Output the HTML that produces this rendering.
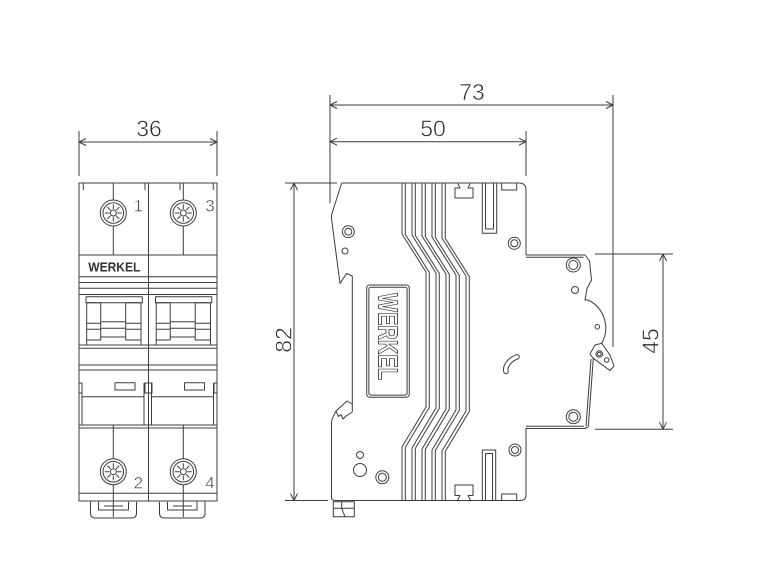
<!DOCTYPE html>
<html><head><meta charset="utf-8">
<style>
html,body{margin:0;padding:0;background:#fff;}
svg{display:block;}
.l{stroke:#3c3c3c;stroke-width:1;fill:none;stroke-linejoin:round;}
.dim{font-family:"Liberation Sans",sans-serif;font-size:23px;fill:#2a2a2a;stroke:#fff;stroke-width:0.6px;}
.num{font-family:"Liberation Sans",sans-serif;font-size:17px;fill:#2a2a2a;stroke:#fff;stroke-width:0.5px;}
</style></head>
<body>
<svg width="783" height="588" viewBox="0 0 783 588" xmlns="http://www.w3.org/2000/svg">
<defs>
<g id="scr">
  <circle r="13" fill="#fff" stroke="#3c3c3c"/>
  <circle r="10.3" fill="none" stroke="#3c3c3c"/>
  <circle r="3" fill="none" stroke="#3c3c3c"/>
  <path d="M0,-4V-8.5M0,4V8.5M-4,0H-8.5M4,0H8.5M2.8,2.8L6,6M-2.8,-2.8L-6,-6M2.8,-2.8L6,-6M-2.8,2.8L-6,6" stroke="#3c3c3c" fill="none"/>
</g>
<g id="sw">
  <rect x="86" y="296.7" width="56.3" height="6" />
  <rect x="86.7" y="302.7" width="14" height="37.3"/>
  <rect x="125.7" y="302.7" width="15.3" height="37.3"/>
  <path d="M100.7,321.7H125.7M100.7,328.3H125.7M100.7,337H125.7M86.7,323.3H100.7M86.7,329.3H100.7M125.7,323.3H141M125.7,329.3H141M86.7,340V345M141,340V345"/>
  <path d="M82,383V425M144,383V425M82,396.7H144"/>
  <rect x="115" y="382.7" width="20" height="7.3"/>
</g>
</defs>

<!-- ===== FRONT VIEW ===== -->
<g class="l">
  <rect x="79" y="183" width="138" height="318"/>
  <line x1="148.5" y1="183" x2="148.5" y2="501"/>
  <path d="M83.3,183V190M145,183V190M180,183V190M213.3,183V190"/>
  <path d="M113.3,183V255M183.3,183V255"/>
  <path d="M79,255H217M79,276.7H217M79,282.5H217M79,288.3H217M79,294.5H217"/>
  <path d="M79,345H217M79,348.3H217M79,365H217M79,370H217"/>
  <path d="M79,425H217M79,428H217M79,493.3H217"/>
  <use href="#sw"/>
  <use href="#sw" transform="translate(69.5,0)"/>
  <rect x="79" y="383" width="3" height="10"/>
  <rect x="145" y="383" width="7" height="10"/>
  <rect x="214" y="383" width="3" height="10"/>
  <path d="M113.3,425V517M183.3,425V517"/>
  <path d="M90.5,501.7V513Q90.5,518 95.5,518H131.5Q136.5,518 136.5,513V501.7"/>
  <path d="M98.5,501.7V510H128.5V501.7M104,506H123"/>
  <path d="M159.5,501.7V513Q159.5,518 164.5,518H200Q205,518 205,513V501.7"/>
  <path d="M167.5,501.7V510H197V501.7M173,506H192"/>
</g>
<use href="#scr" x="113.3" y="213"/>
<use href="#scr" x="183.3" y="213"/>
<use href="#scr" x="113.3" y="471.7"/>
<use href="#scr" x="183.3" y="471.7"/>
<text x="88.3" y="271.7" font-family="Liberation Sans, sans-serif" font-weight="bold" font-size="12.5" textLength="52" lengthAdjust="spacingAndGlyphs" fill="#333">WERKEL</text>
<text class="num" x="138.3" y="211.7" text-anchor="middle">1</text>
<text class="num" x="210" y="211.7" text-anchor="middle">3</text>
<text class="num" x="138.3" y="488.3" text-anchor="middle">2</text>
<text class="num" x="210" y="488.3" text-anchor="middle">4</text>

<!-- 36 dimension -->
<g class="l">
  <path d="M79,142H217M86,138.5L79,142L86,145.5M210,138.5L217,142L210,145.5M79,131V176M217,131V176"/>
</g>
<text class="dim" x="149" y="136.7" text-anchor="middle">36</text>

<!-- ===== SIDE VIEW ===== -->
<g class="l">
  <!-- outline -->
  <path d="M341.7,183L331.5,215V218.5L340,283.5L346.5,273.5L352.3,276V412"/>
  <path d="M352.3,404L347,401L336,411L333.5,416L331.5,421V497Q331.5,500.5 335,500.5H520Q526,500.5 526,494.5V428"/>
  <path d="M336,411L338.5,416.5L341,414.5L343,419L346,416L352.3,412"/>
  <path d="M341.7,183H519Q526,183 526,190V255"/>
  <!-- DIN side -->
  <path d="M526,255H585L589.5,261L591.5,280L587,288.5L585,300H588A31,31 0 0 1 601.7,343.3"/>
  <path d="M526,257.3H583.5"/>
  <path d="M590,354L595,345L601.7,343.3L610,355L614,366L610,370.5L593.3,358.3Z"/>
  <path d="M593.3,358.3L588.3,426.7L585,428.5H526M591,359L586,426.3M526,426.3H584"/>
  <!-- bottom clip -->
  <rect x="333.3" y="501.7" width="21" height="15"/>
  <path d="M333.3,508.3H354.3M341.7,501.7V508.3L345,516.7"/>
  <!-- wavy lines (5 pairs) -->
  <path d="M402,183V234L426,272V407L402,447V500.5"/>
  <path d="M405.3,183V234.4L429.3,272.4V407.4L405.3,447.4V500.5"/>
  <path d="M412,183V235L436,273V408L412,448V500.5"/>
  <path d="M415.3,183V235.4L439.3,273.4V408.4L415.3,448.4V500.5"/>
  <path d="M422,183V236L446,274V409L422,449V500.5"/>
  <path d="M425.3,183V236.4L449.3,274.4V409.4L425.3,449.4V500.5"/>
  <path d="M432,183V237L456,275V410L432,450V500.5"/>
  <path d="M435.3,183V237.4L459.3,275.4V410.4L435.3,450.4V500.5"/>
  <path d="M442,183V238L466,276V411L442,451V500.5"/>
  <path d="M445.3,183V238.4L469.3,276.4V411.4L445.3,451.4V500.5"/>
  <!-- T notches -->
  <path d="M457.5,183L460,188H455V198H473V188H468L470.5,183"/>
  <path d="M457.5,500.5L460,495.5H455V485H473V495.5H468L470.5,500.5"/>
  <!-- slots -->
  <rect x="482.3" y="183" width="14.4" height="50.3"/>
  <rect x="485.5" y="183" width="8" height="46"/>
  <rect x="482.3" y="450" width="13.4" height="50.5"/>
  <rect x="485.5" y="453.5" width="7" height="47"/>
  <rect x="501.7" y="183" width="15" height="7"/>
  <rect x="501.7" y="494" width="15" height="6.5"/>
  <!-- label box -->
  <rect x="366.7" y="285" width="42.6" height="112.3" rx="3"/>
  <rect x="368.9" y="287.2" width="38.2" height="107.9" rx="2"/>
  <!-- circles -->
  <circle cx="348.3" cy="231.7" r="6"/><circle cx="348.3" cy="231.7" r="3.5"/>
  <circle cx="345" cy="251" r="3"/>
  <circle cx="360" cy="455" r="3.5"/>
  <circle cx="360" cy="470" r="6.5"/>
  <circle cx="382.3" cy="477.3" r="6.5"/><circle cx="382.3" cy="477.3" r="4"/>
  <circle cx="514.3" cy="243.3" r="6"/><circle cx="514.3" cy="243.3" r="3.5"/>
  <circle cx="515" cy="450" r="6"/><circle cx="515" cy="450" r="3.5"/>
  <circle cx="573.3" cy="265" r="7"/><circle cx="573.3" cy="265" r="4.5"/>
  <circle cx="575" cy="290" r="3.5"/>
  <circle cx="597.3" cy="326.7" r="2.3"/>
  <circle cx="573.3" cy="416.7" r="7"/><circle cx="573.3" cy="416.7" r="4.5"/>
  <circle cx="599.3" cy="354" r="3.3"/><circle cx="599.3" cy="354" r="1.8"/>
  <circle cx="606.7" cy="360" r="2.3"/>
</g>
<!-- curved slot -->
<path d="M506,371.5C504.5,366 510,359.5 517,356.8" stroke="#3c3c3c" stroke-width="5.5" stroke-linecap="round" fill="none"/>
<path d="M506,371.5C504.5,366 510,359.5 517,356.8" stroke="#fff" stroke-width="3.5" stroke-linecap="round" fill="none"/>
<!-- side label text -->
<text transform="translate(378.5,336.5) rotate(90)" text-anchor="middle" font-family="Liberation Sans, sans-serif" font-weight="bold" font-size="28" textLength="87" lengthAdjust="spacingAndGlyphs" fill="none" stroke="#3c3c3c" stroke-width="0.9">WERKEL</text>

<!-- dimensions side -->
<g class="l">
  <path d="M330,105H613M337,101.5L330,105L337,108.5M606,101.5L613,105L606,108.5M330,95V203M613,95V347"/>
  <path d="M330,141.7H526M337,138.2L330,141.7L337,145.2M519,138.2L526,141.7L519,145.2M526,131V176"/>
  <path d="M294,183V500.5M290.5,190L294,183L297.5,190M290.5,493.5L294,500.5L297.5,493.5M285,183H337M285,500.5H328"/>
  <path d="M663,254V429.3M659.5,261L663,254L666.5,261M659.5,422.3L663,429.3L666.5,422.3M595,254H673M595,429.3H673"/>
</g>
<text class="dim" x="472" y="100" text-anchor="middle">73</text>
<text class="dim" x="433" y="136.7" text-anchor="middle">50</text>
<text class="dim" transform="translate(291.5,340) rotate(-90)" text-anchor="middle">82</text>
<text class="dim" transform="translate(658.5,341) rotate(-90)" text-anchor="middle">45</text>
</svg>
</body></html>
